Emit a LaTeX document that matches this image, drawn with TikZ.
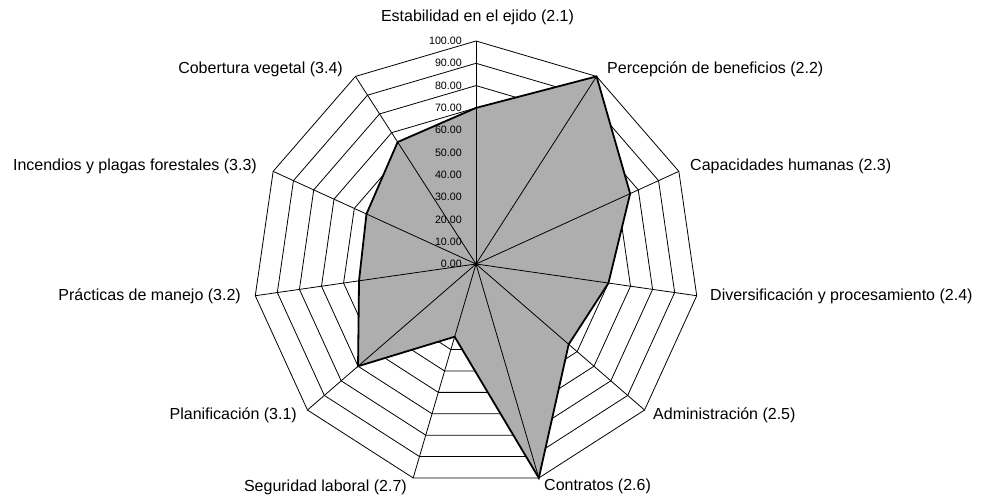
\documentclass[tikz,border=0pt]{standalone}
\usepackage{fontspec}
\setmainfont{Liberation Sans}
\definecolor{areagray}{RGB}{174,174,174}
\tikzset{
  gridline/.style={draw=black, line width=0.8pt},
  datapoly/.style={fill=areagray, draw=none},
  dataline/.style={draw=black, line width=1.8pt, line join=miter},
  axislabel/.style={inner sep=0pt, font=\fontsize{16}{19}\selectfont},
  ticklabel/.style={inner sep=0pt, anchor=east, font=\fontsize{10.7}{12}\selectfont}
}
\begin{document}
\begin{tikzpicture}[x=1pt,y=1pt]
\useasboundingbox (0,0) rectangle (982,499);
\begin{scope}[shift={(476,235)}]
  \coordinate (O) at (0,0);
  \foreach \k in {0,...,10} {
    \coordinate (A\k) at ({90-\k*360/11}:223);
  }
  % rings
  \foreach \r in {1,...,10} {
    \draw[gridline] (90:{22.3*\r}) \foreach \k in {1,...,10} { -- ({90-\k*360/11}:{22.3*\r}) } -- cycle;
  }
  % data
  \foreach \v [count=\i from 0] in {70,100,76,60,55,100,34,70,53,54,65} {
    \coordinate (D\i) at ({90-\i*360/11}:{2.23*\v});
  }
  \fill[datapoly] (D0) -- (D1) -- (D2) -- (D3) -- (D4) -- (D5) -- (D6) -- (D7) -- (D8) -- (D9) -- (D10) -- cycle;
  % spokes
  \foreach \k in {0,...,10} {
    \draw[gridline] (O) -- (A\k);
  }
  \draw[dataline] (D0) -- (D1) -- (D2) -- (D3) -- (D4) -- (D5) -- (D6) -- (D7) -- (D8) -- (D9) -- (D10) -- cycle;
  \fill[black] (O) circle (1.8);
  % tick labels
  \foreach \v in {0,10,...,100} {
    \node[ticklabel] (t\v) at (-14,{2.23*\v}) {\v.00};
  }
\end{scope}
% axis labels
\node[axislabel, anchor=center] (l0) at (477.5,482) {Estabilidad en el ejido (2.1)};
\node[axislabel, anchor=west] (l1) at (607,429.5) {Percepción de beneficios (2.2)};
\node[axislabel, anchor=west] (l2) at (690,332.3) {Capacidades humanas (2.3)};
\node[axislabel, anchor=west] (l3) at (710,203) {Diversificación y procesamiento (2.4)};
\node[axislabel, anchor=west] (l4) at (653,83.3) {Administración (2.5)};
\node[axislabel, anchor=west] (l5) at (544,12.3) {Contratos (2.6)};
\node[axislabel, anchor=east] (l6) at (407,12) {Seguridad laboral (2.7)};
\node[axislabel, anchor=east] (l7) at (297,83.3) {Planificación (3.1)};
\node[axislabel, anchor=east] (l8) at (241,203) {Prácticas de manejo (3.2)};
\node[axislabel, anchor=east] (l9) at (257,332.3) {Incendios y plagas forestales (3.3)};
\node[axislabel, anchor=east] (l10) at (343,429.7) {Cobertura vegetal (3.4)};
\end{tikzpicture}
\end{document}
